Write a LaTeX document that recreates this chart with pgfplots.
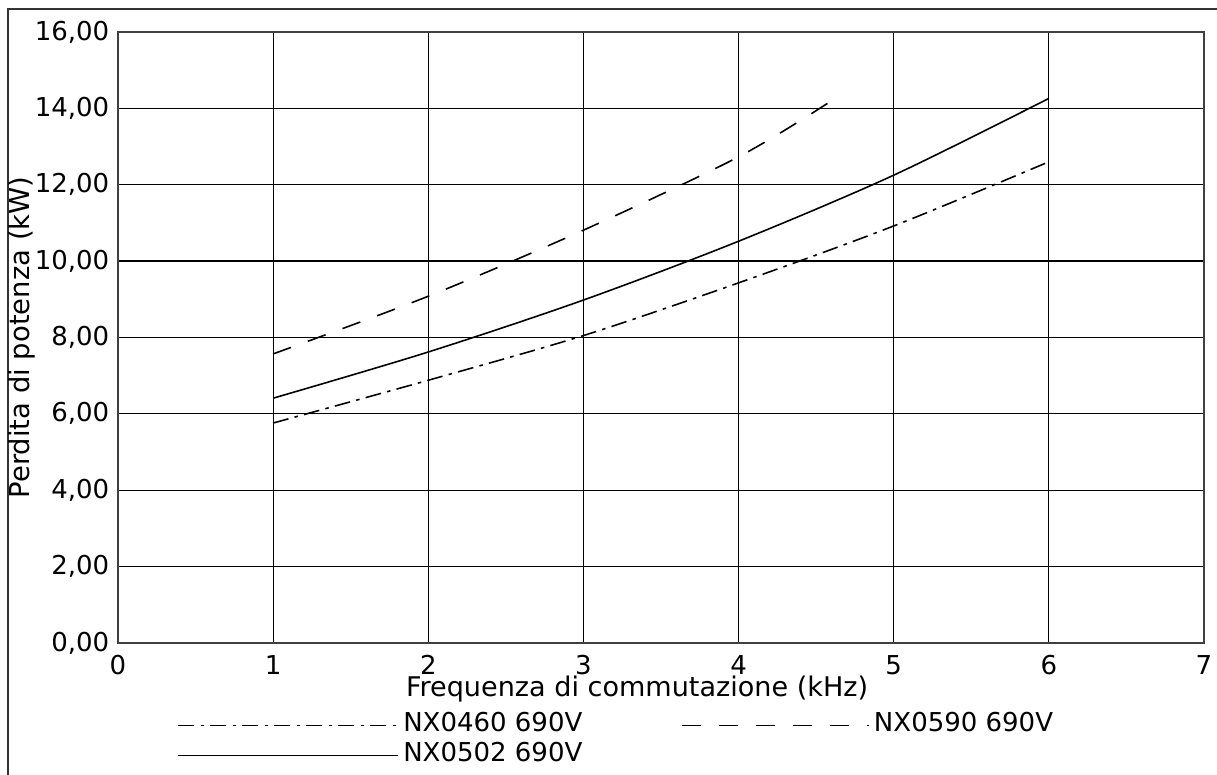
\documentclass[border=0pt]{standalone}
\usepackage{fontspec}
\setmainfont{DejaVu Sans}
\usepackage{pgfplots}
\pgfplotsset{compat=1.18}

\tikzset{
  dashdot/.style={dash pattern=on 4.5pt off 1.8pt on 1pt off 1.8pt},
  longdash/.style={dash pattern=on 5.4pt off 5.1pt},
}
\pgfplotsset{
  leglong/.style={legend image code/.code={\draw[##1] (0cm,0cm) -- (2.2cm,0cm);}},
  legshort/.style={legend image code/.code={\draw[##1] (0cm,0cm) -- (1.87cm,0cm);}},
}

\begin{document}
\fontsize{7.4}{8.9}\selectfont
\begin{tikzpicture}
\useasboundingbox (-1.18,-1.32) rectangle (10.99,6.43);
\clip (-1.18,-1.32) rectangle (10.99,6.43);
% outer frame (only left and top show in the picture)
\draw[line width=0.6pt, black!80] (-1.10,-1.50) -- (-1.10,6.34) -- (11.2,6.34);

\begin{axis}[
    scale only axis,
    width=10.86cm, height=6.11cm,
    at={(0,0)}, anchor=south west,
    xmin=0, xmax=7, ymin=0, ymax=16,
    xtick={0,1,...,7},
    ytick={0,2,...,16},
    major tick length=0pt,
    grid=major,
    grid style={line width=0.35pt, black},
    axis line style={line width=0.6pt, black!75},
    /pgf/number format/assume math mode=true,
    yticklabel={\pgfmathprintnumber[fixed, fixed zerofill, precision=2, use comma]{\tick}},
    yticklabel style={inner sep=0pt, xshift=-0.08cm},
    xticklabel style={inner sep=0pt, yshift=-0.12cm},
    xlabel={Frequenza di commutazione (kHz)},
    ylabel={Perdita di potenza (kW)},
    every axis x label/.style={at={(rel axis cs:0.478,0)}, anchor=north, inner sep=0pt,
        yshift=-0.32cm, font=\fontsize{7.7}{9}\selectfont},
    every axis y label/.style={at={(rel axis cs:0,0.5)}, xshift=-0.96cm, rotate=90,
        anchor=center, inner sep=0pt, font=\fontsize{7.8}{9}\selectfont},
    legend columns=2,
    legend style={
        at={(0.0543,-0.1097)}, anchor=north west,
        draw=none, fill=none, inner sep=0pt,
        column sep=0pt, row sep=0pt,
        nodes={inner sep=0pt, text height=6pt, text depth=2.5pt},
        /tikz/every odd column/.append style={column sep=0.04cm},
        /tikz/every even column/.append style={column sep=0.99cm},
    },
]

\addplot[black, line width=0.45pt, dashdot, smooth, leglong]
    coordinates {(1,5.76) (2,6.88) (3,8.05) (4,9.43) (5,10.92) (6,12.6)};
\addlegendentry{NX0460 690V}

\addplot[black, line width=0.45pt, longdash, smooth, legshort]
    coordinates {(1,7.57) (2,9.08) (3,10.81) (4,12.73) (4.6,14.2)};
\addlegendentry{NX0590 690V}

\addplot[black, line width=0.45pt, smooth, leglong]
    coordinates {(1,6.41) (2,7.62) (3,8.98) (4,10.52) (5,12.25) (6,14.26)};
\addlegendentry{NX0502 690V}

\end{axis}
\end{tikzpicture}
\end{document}
